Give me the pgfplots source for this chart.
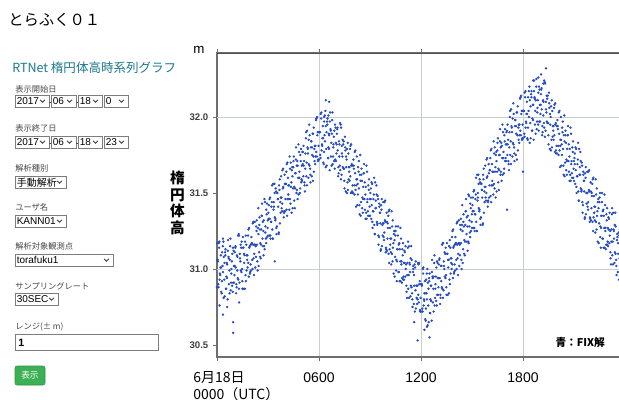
\documentclass[border=0pt]{standalone}
\usepackage{pgfplots}
\pgfplotsset{compat=1.18}
\usepackage{fontspec}
\setmainfont{Liberation Sans}
\newfontfamily\jp{Noto Sans CJK JP}
\definecolor{dotblue}{RGB}{38,76,196}
\definecolor{teal1}{RGB}{28,120,140}
\definecolor{gridc}{RGB}{200,205,212}
\definecolor{axc}{RGB}{110,110,110}
\definecolor{axtop}{RGB}{80,80,80}
\definecolor{btn}{RGB}{60,176,84}
\definecolor{lbl}{RGB}{70,70,70}
\definecolor{bord}{RGB}{125,125,125}
\pgfplotsset{dots/.style={only marks, mark=*, mark size=0.68pt, draw=dotblue, fill=dotblue, mark options={draw=dotblue, fill=dotblue}}}
\newcommand{\selbox}[4]{%
  \draw[bord, line width=0.6pt, fill=white] (#1,#3-6) rectangle (#2,#3+6);
  \node[anchor=west, inner sep=0, font=\fontsize{7.5}{8}\selectfont] at (#1+1.5,#3+0.3) {#4};
  \draw[black!75, line width=0.6pt] (#2-9,#3-1.2) -- (#2-6.5,#3+1.3) -- (#2-4,#3-1.2);
}
\begin{document}
\begin{tikzpicture}[x=0.75pt,y=-0.75pt]
\path[use as bounding box, fill=white] (0,0) rectangle (619,400);
\clip (0,0) rectangle (619,400);
\tikzset{lab/.style={anchor=west, inner sep=0, text=lbl, font=\jp\fontsize{6.2}{7}\selectfont}}
% left panel
\node[anchor=west, inner sep=0, font=\jp\fontsize{11.5}{13}\selectfont] at (8,20) {とらふく０１};
\node[anchor=west, inner sep=0, text=teal1, font=\jp\fontsize{9.4}{11}\selectfont] at (12,68) {RTNet 楕円体高時系列グラフ};
\node[lab] at (15,89) {表示開始日};
\selbox{15}{49}{101}{2017}
\draw[black!70, line width=0.5pt] (49.3,102) -- (51,102);
\selbox{51}{76}{101}{06}
\draw[black!70, line width=0.5pt] (76.3,102) -- (78,102);
\selbox{78}{102}{101}{18}
\selbox{104}{128}{101}{0}
\node[lab] at (15,128) {表示終了日};
\selbox{15}{49}{142}{2017}
\draw[black!70, line width=0.5pt] (49.3,143) -- (51,143);
\selbox{51}{76}{142}{06}
\draw[black!70, line width=0.5pt] (76.3,143) -- (78,143);
\selbox{78}{102}{142}{18}
\selbox{104}{128}{142}{23}
\node[lab] at (15,168) {解析種別};
\selbox{15}{66}{182}{\jp 手動解析}
\node[lab] at (15,207) {ユーザ名};
\selbox{15}{66}{221}{KANN01}
\node[lab] at (15,246) {解析対象観測点};
\selbox{15}{113}{260}{torafuku1}
\node[lab] at (15,286) {サンプリングレート};
\selbox{15}{58}{299}{30SEC}
\node[lab] at (15,327) {レンジ(± m)};
\draw[bord, line width=0.6pt, fill=white] (15,334) rectangle (158,350);
\node[anchor=west, inner sep=0, font=\bfseries\fontsize{8}{9}\selectfont] at (18,342.5) {1};
\draw[fill=btn, draw=btn!85!black, rounded corners=1.5pt] (15,366) rectangle (45,385);
\node[text=white, inner sep=0, font=\jp\fontsize{6.5}{7}\selectfont] at (30,375.5) {表示};
% chart labels
\node[inner sep=0, font=\fontsize{10}{11}\selectfont] at (199,50) {m};
\node[inner sep=0, align=center, font=\jp\bfseries\fontsize{11}{12.6}\selectfont] at (177.5,203) {楕\\円\\体\\高};
\node[anchor=north west, inner sep=0, align=left, font=\jp\fontsize{10.5}{13}\selectfont] at (193,371) {6月18日\\0000（UTC）};
\begin{scope}[x=1pt,y=1pt]
\begin{axis}[
  at={(162.75pt,-267.75pt)}, anchor=south west,
  scale only axis, width=304.5pt, height=228pt,
  xmin=0, xmax=23.88, ymin=30.421, ymax=32.421,
  xtick={0,6,12,18}, xticklabels={,0600,1200,1800},
  ytick={30.5,31,31.5,32},
  extra y ticks={31,32}, extra y tick labels={},
  extra y tick style={grid=major, major tick length=0pt},
  xmajorgrids=true,
  grid style={gridc, line width=0.7pt},
  axis line style={axc, line width=0.9pt},
  tick align=outside, major tick length=3pt,
  tick style={axc, line width=0.6pt},
  yticklabel style={/pgf/number format/fixed, /pgf/number format/fixed zerofill, /pgf/number format/precision=1, font=\bfseries\fontsize{7.2}{8}\selectfont, text=black!75},
  xticklabel style={font=\fontsize{10.5}{12}\selectfont, yshift=-5.5pt},
  /pgf/number format/assume math mode=true,
  clip=true,
]
\addplot[dots] coordinates {
(0.025,31.06)(0.075,30.90)(0.125,31.14)(0.175,30.97)(0.225,31.09)(0.275,30.84)(0.325,31.02)(0.375,31.18)(0.425,30.93)(0.475,31.11)(0.525,30.87)(0.575,31.04)(0.625,30.80)(0.675,31.08)(0.725,30.99)(0.775,31.15)(0.825,30.91)(0.875,31.05)(0.925,30.85)(0.975,31.12)
(1.025,30.96)(1.075,31.14)(1.125,30.84)(1.175,31.09)(1.225,30.94)(1.275,31.23)(1.325,30.91)(1.375,31.05)(1.425,31.14)(1.475,31.00)(1.525,31.21)(1.575,30.87)(1.625,31.09)(1.675,30.96)(1.725,31.16)(1.775,31.06)(1.825,31.22)(1.875,30.95)(1.925,31.15)(1.975,31.03)
(2.025,31.21)(2.075,31.06)(2.125,31.16)(2.175,30.96)(2.225,31.31)(2.275,31.15)(2.325,31.25)(2.375,31.05)(2.425,31.40)(2.475,31.11)(2.525,31.26)(2.575,31.07)(2.625,31.35)(2.675,31.20)(2.725,31.25)(2.775,31.15)(2.825,31.44)(2.875,31.20)(2.925,31.36)(2.975,31.27)
(3.025,31.37)(3.075,31.22)(3.125,31.47)(3.175,31.31)(3.225,31.44)(3.275,31.20)(3.325,31.39)(3.375,31.56)(3.425,31.32)(3.475,31.51)(3.525,31.28)(3.575,31.46)(3.625,31.23)(3.675,31.52)(3.725,31.44)(3.775,31.61)(3.825,31.38)(3.875,31.53)(3.925,31.34)(3.975,31.62)
(4.025,31.46)(4.075,31.64)(4.125,31.35)(4.175,31.60)(4.225,31.46)(4.275,31.74)(4.325,31.43)(4.375,31.57)(4.425,31.67)(4.475,31.53)(4.525,31.74)(4.575,31.40)(4.625,31.63)(4.675,31.50)(4.725,31.71)(4.775,31.60)(4.825,31.77)(4.875,31.50)(4.925,31.71)(4.975,31.59)
(5.025,31.77)(5.075,31.61)(5.125,31.71)(5.175,31.51)(5.225,31.86)(5.275,31.70)(5.325,31.80)(5.375,31.60)(5.425,31.95)(5.475,31.66)(5.525,31.80)(5.575,31.61)(5.625,31.89)(5.675,31.74)(5.725,31.79)(5.775,31.69)(5.825,31.98)(5.875,31.74)(5.925,31.90)(5.975,31.81)
(6.025,31.90)(6.075,31.75)(6.125,31.99)(6.175,31.82)(6.225,31.94)(6.275,31.69)(6.325,31.88)(6.375,32.04)(6.425,31.79)(6.475,31.97)(6.525,31.73)(6.575,31.89)(6.625,31.65)(6.675,31.92)(6.725,31.83)(6.775,31.98)(6.825,31.74)(6.875,31.87)(6.925,31.66)(6.975,31.93)
(7.025,31.76)(7.075,31.92)(7.125,31.61)(7.175,31.84)(7.225,31.68)(7.275,31.95)(7.325,31.62)(7.375,31.74)(7.425,31.82)(7.475,31.66)(7.525,31.87)(7.575,31.51)(7.625,31.72)(7.675,31.57)(7.725,31.76)(7.775,31.64)(7.825,31.79)(7.875,31.50)(7.925,31.69)(7.975,31.55)
(8.025,31.72)(8.075,31.55)(8.125,31.63)(8.175,31.41)(8.225,31.74)(8.275,31.56)(8.325,31.64)(8.375,31.42)(8.425,31.75)(8.475,31.44)(8.525,31.58)(8.575,31.37)(8.625,31.63)(8.675,31.46)(8.725,31.49)(8.775,31.37)(8.825,31.64)(8.875,31.38)(8.925,31.52)(8.975,31.41)
(9.025,31.50)(9.075,31.33)(9.125,31.56)(9.175,31.38)(9.225,31.49)(9.275,31.23)(9.325,31.40)(9.375,31.55)(9.425,31.29)(9.475,31.46)(9.525,31.21)(9.575,31.37)(9.625,31.12)(9.675,31.39)(9.725,31.29)(9.775,31.44)(9.825,31.19)(9.875,31.32)(9.925,31.11)(9.975,31.37)
(10.025,31.20)(10.075,31.35)(10.125,31.04)(10.175,31.27)(10.225,31.11)(10.275,31.38)(10.325,31.05)(10.375,31.17)(10.425,31.25)(10.475,31.08)(10.525,31.28)(10.575,30.92)(10.625,31.13)(10.675,30.98)(10.725,31.17)(10.775,31.05)(10.825,31.20)(10.875,30.91)(10.925,31.09)(10.975,30.95)
(11.025,31.12)(11.075,30.95)(11.125,31.03)(11.175,30.81)(11.225,31.14)(11.275,30.96)(11.325,31.04)(11.375,30.82)(11.425,31.15)(11.475,30.84)(11.525,30.98)(11.575,30.77)(11.625,31.03)(11.675,30.86)(11.725,30.89)(11.775,30.77)(11.825,31.04)(11.875,30.78)(11.925,30.92)(11.975,30.81)
(12.025,30.90)(12.075,30.74)(12.125,30.97)(12.175,30.80)(12.225,30.92)(12.275,30.66)(12.325,30.84)(12.375,31.00)(12.425,30.76)(12.475,30.94)(12.525,30.71)(12.575,30.89)(12.625,30.66)(12.675,30.95)(12.725,30.87)(12.775,31.04)(12.825,30.81)(12.875,30.95)(12.925,30.76)(12.975,31.04)
(13.025,30.88)(13.075,31.06)(13.125,30.77)(13.175,31.02)(13.225,30.88)(13.275,31.17)(13.325,30.86)(13.375,31.00)(13.425,31.10)(13.475,30.96)(13.525,31.17)(13.575,30.83)(13.625,31.06)(13.675,30.93)(13.725,31.14)(13.775,31.04)(13.825,31.21)(13.875,30.94)(13.925,31.15)(13.975,31.03)
(14.025,31.21)(14.075,31.06)(14.125,31.16)(14.175,30.96)(14.225,31.32)(14.275,31.16)(14.325,31.26)(14.375,31.06)(14.425,31.42)(14.475,31.13)(14.525,31.28)(14.575,31.09)(14.625,31.38)(14.675,31.23)(14.725,31.28)(14.775,31.18)(14.825,31.48)(14.875,31.24)(14.925,31.40)(14.975,31.31)
(15.025,31.42)(15.075,31.27)(15.125,31.52)(15.175,31.36)(15.225,31.49)(15.275,31.25)(15.325,31.45)(15.375,31.62)(15.425,31.38)(15.475,31.57)(15.525,31.34)(15.575,31.52)(15.625,31.29)(15.675,31.59)(15.725,31.51)(15.775,31.68)(15.825,31.45)(15.875,31.60)(15.925,31.41)(15.975,31.69)
(16.025,31.55)(16.075,31.73)(16.125,31.44)(16.175,31.69)(16.225,31.55)(16.275,31.84)(16.325,31.53)(16.375,31.67)(16.425,31.77)(16.475,31.64)(16.525,31.86)(16.575,31.52)(16.625,31.75)(16.675,31.62)(16.725,31.83)(16.775,31.73)(16.825,31.90)(16.875,31.63)(16.925,31.84)(16.975,31.73)
(17.025,31.90)(17.075,31.75)(17.125,31.85)(17.175,31.65)(17.225,32.00)(17.275,31.84)(17.325,31.94)(17.375,31.74)(17.425,32.09)(17.475,31.80)(17.525,31.94)(17.575,31.75)(17.625,32.03)(17.675,31.88)(17.725,31.93)(17.775,31.83)(17.825,32.12)(17.875,31.88)(17.925,32.04)(17.975,31.95)
(18.025,32.04)(18.075,31.89)(18.125,32.13)(18.175,31.97)(18.225,32.10)(18.275,31.85)(18.325,32.04)(18.375,32.20)(18.425,31.96)(18.475,32.15)(18.525,31.91)(18.575,32.08)(18.625,31.85)(18.675,32.13)(18.725,32.04)(18.775,32.20)(18.825,31.97)(18.875,32.11)(18.925,31.91)(18.975,32.18)
(19.025,32.02)(19.075,32.18)(19.125,31.88)(19.175,32.11)(19.225,31.96)(19.275,32.23)(19.325,31.91)(19.375,32.03)(19.425,32.12)(19.475,31.96)(19.525,32.16)(19.575,31.79)(19.625,32.00)(19.675,31.85)(19.725,32.04)(19.775,31.91)(19.825,32.06)(19.875,31.77)(19.925,31.96)(19.975,31.81)
(20.025,31.98)(20.075,31.81)(20.125,31.89)(20.175,31.67)(20.225,32.00)(20.275,31.82)(20.325,31.90)(20.375,31.68)(20.425,32.01)(20.475,31.70)(20.525,31.83)(20.575,31.62)(20.625,31.88)(20.675,31.71)(20.725,31.74)(20.775,31.62)(20.825,31.89)(20.875,31.63)(20.925,31.77)(20.975,31.66)
(21.025,31.73)(21.075,31.56)(21.125,31.79)(21.175,31.61)(21.225,31.72)(21.275,31.45)(21.325,31.62)(21.375,31.77)(21.425,31.51)(21.475,31.68)(21.525,31.42)(21.575,31.58)(21.625,31.33)(21.675,31.60)(21.725,31.50)(21.775,31.64)(21.825,31.39)(21.875,31.52)(21.925,31.31)(21.975,31.57)
(22.025,31.40)(22.075,31.56)(22.125,31.25)(22.175,31.48)(22.225,31.32)(22.275,31.59)(22.325,31.26)(22.375,31.38)(22.425,31.46)(22.475,31.30)(22.525,31.50)(22.575,31.14)(22.625,31.35)(22.675,31.20)(22.725,31.39)(22.775,31.27)(22.825,31.42)(22.875,31.13)(22.925,31.32)(22.975,31.18)
(23.025,31.34)(23.075,31.17)(23.125,31.25)(23.175,31.03)(23.225,31.36)(23.275,31.18)(23.325,31.26)(23.375,31.04)(23.425,31.37)(23.475,31.06)(23.525,31.19)(23.575,30.98)(23.625,31.24)(23.675,31.07)(23.725,31.10)(23.775,30.98)(23.825,31.25)(23.875,30.99)
(0.02,31.17)(0.35,31.20)(0.35,30.70)(0.95,30.58)(0.95,30.65)(0.60,30.75)(1.30,30.78)(0.15,30.76)(3.40,31.05)
(6.40,32.11)(6.60,32.10)(6.30,32.00)(6.55,32.01)
(11.80,30.53)(12.50,30.55)(12.20,30.60)(11.60,30.65)(12.35,30.62)
(17.06,31.39)(18.00,31.64)(18.60,32.24)(19.06,32.28)(19.35,32.32)(18.90,32.26)(19.20,32.22)
};
\addplot[dots] coordinates {
(0.00,30.88)(0.05,31.05)(0.10,31.17)(0.15,30.93)(0.20,31.01)(0.25,30.85)(0.30,31.11)(0.35,30.98)(0.40,31.08)(0.45,30.82)(0.50,31.13)(0.55,30.95)(0.60,31.03)(0.65,31.19)(0.70,30.90)(0.75,31.06)(0.80,30.86)(0.85,31.00)(0.90,31.10)(0.95,30.91)
(1.00,30.91)(1.05,31.11)(1.10,31.01)(1.15,30.88)(1.20,31.08)(1.25,30.93)(1.30,31.22)(1.35,31.07)(1.40,30.99)(1.45,31.18)(1.50,30.87)(1.55,31.14)(1.60,31.04)(1.65,31.18)(1.70,30.92)(1.75,31.09)(1.80,31.01)(1.85,31.26)(1.90,31.14)(1.95,30.98)
(2.00,30.99)(2.05,31.17)(2.10,31.30)(2.15,31.07)(2.20,31.16)(2.25,31.01)(2.30,31.28)(2.35,31.16)(2.40,31.27)(2.45,31.02)(2.50,31.34)(2.55,31.17)(2.60,31.26)(2.65,31.43)(2.70,31.15)(2.75,31.32)(2.80,31.13)(2.85,31.28)(2.90,31.39)(2.95,31.21)
(3.00,31.22)(3.05,31.42)(3.10,31.33)(3.15,31.20)(3.20,31.41)(3.25,31.26)(3.30,31.56)(3.35,31.41)(3.40,31.34)(3.45,31.53)(3.50,31.23)(3.55,31.50)(3.60,31.41)(3.65,31.55)(3.70,31.30)(3.75,31.47)(3.80,31.40)(3.85,31.65)(3.90,31.54)(3.95,31.38)
(4.00,31.38)(4.05,31.56)(4.10,31.69)(4.15,31.46)(4.20,31.55)(4.25,31.39)(4.30,31.66)(4.35,31.54)(4.40,31.65)(4.45,31.40)(4.50,31.71)(4.55,31.54)(4.60,31.63)(4.65,31.80)(4.70,31.52)(4.75,31.68)(4.80,31.49)(4.85,31.64)(4.90,31.75)(4.95,31.57)
(5.00,31.58)(5.05,31.77)(5.10,31.68)(5.15,31.55)(5.20,31.76)(5.25,31.61)(5.30,31.91)(5.35,31.76)(5.40,31.69)(5.45,31.88)(5.50,31.57)(5.55,31.84)(5.60,31.75)(5.65,31.89)(5.70,31.64)(5.75,31.81)(5.80,31.74)(5.85,31.99)(5.90,31.88)(5.95,31.72)
(6.00,31.72)(6.05,31.90)(6.10,32.02)(6.15,31.78)(6.20,31.86)(6.25,31.70)(6.30,31.97)(6.35,31.84)(6.40,31.94)(6.45,31.68)(6.50,31.99)(6.55,31.80)(6.60,31.88)(6.65,32.03)(6.70,31.74)(6.75,31.89)(6.80,31.69)(6.85,31.82)(6.90,31.91)(6.95,31.72)
(7.00,31.71)(7.05,31.89)(7.10,31.78)(7.15,31.63)(7.20,31.82)(7.25,31.65)(7.30,31.93)(7.35,31.76)(7.40,31.67)(7.45,31.84)(7.50,31.53)(7.55,31.78)(7.60,31.67)(7.65,31.79)(7.70,31.52)(7.75,31.67)(7.80,31.58)(7.85,31.81)(7.90,31.68)(7.95,31.50)
(8.00,31.50)(8.05,31.66)(8.10,31.77)(8.15,31.52)(8.20,31.59)(8.25,31.42)(8.30,31.67)(8.35,31.53)(8.40,31.62)(8.45,31.35)(8.50,31.66)(8.55,31.47)(8.60,31.54)(8.65,31.69)(8.70,31.39)(8.75,31.54)(8.80,31.33)(8.85,31.46)(8.90,31.55)(8.95,31.35)
(9.00,31.35)(9.05,31.53)(9.10,31.42)(9.15,31.27)(9.20,31.46)(9.25,31.29)(9.30,31.57)(9.35,31.40)(9.40,31.31)(9.45,31.48)(9.50,31.16)(9.55,31.41)(9.60,31.30)(9.65,31.42)(9.70,31.15)(9.75,31.30)(9.80,31.21)(9.85,31.44)(9.90,31.31)(9.95,31.13)
(10.00,31.12)(10.05,31.27)(10.10,31.38)(10.15,31.13)(10.20,31.20)(10.25,31.03)(10.30,31.28)(10.35,31.14)(10.40,31.23)(10.45,30.95)(10.50,31.25)(10.55,31.06)(10.60,31.13)(10.65,31.28)(10.70,30.98)(10.75,31.13)(10.80,30.92)(10.85,31.05)(10.90,31.13)(10.95,30.93)
(11.00,30.93)(11.05,31.11)(11.10,31.00)(11.15,30.85)(11.20,31.04)(11.25,30.87)(11.30,31.15)(11.35,30.98)(11.40,30.89)(11.45,31.06)(11.50,30.75)(11.55,31.00)(11.60,30.89)(11.65,31.01)(11.70,30.74)(11.75,30.89)(11.80,30.80)(11.85,31.03)(11.90,30.90)(11.95,30.72)
(12.00,30.72)(12.05,30.89)(12.10,31.00)(12.15,30.76)(12.20,30.84)(12.25,30.67)(12.30,30.93)(12.35,30.80)(12.40,30.91)(12.45,30.65)(12.50,30.97)(12.55,30.80)(12.60,30.89)(12.65,31.06)(12.70,30.78)(12.75,30.95)(12.80,30.76)(12.85,30.90)(12.90,31.01)(12.95,30.83)
(13.00,30.83)(13.05,31.03)(13.10,30.94)(13.15,30.81)(13.20,31.02)(13.25,30.87)(13.30,31.17)(13.35,31.02)(13.40,30.95)(13.45,31.14)(13.50,30.83)(13.55,31.10)(13.60,31.01)(13.65,31.15)(13.70,30.90)(13.75,31.07)(13.80,31.00)(13.85,31.25)(13.90,31.14)(13.95,30.98)
(14.00,30.99)(14.05,31.17)(14.10,31.30)(14.15,31.07)(14.20,31.17)(14.25,31.02)(14.30,31.29)(14.35,31.17)(14.40,31.29)(14.45,31.04)(14.50,31.36)(14.55,31.19)(14.60,31.29)(14.65,31.46)(14.70,31.18)(14.75,31.35)(14.80,31.17)(14.85,31.32)(14.90,31.43)(14.95,31.25)
(15.00,31.27)(15.05,31.47)(15.10,31.38)(15.15,31.25)(15.20,31.46)(15.25,31.31)(15.30,31.62)(15.35,31.47)(15.40,31.40)(15.45,31.59)(15.50,31.29)(15.55,31.56)(15.60,31.47)(15.65,31.62)(15.70,31.37)(15.75,31.54)(15.80,31.47)(15.85,31.72)(15.90,31.61)(15.95,31.45)
(16.00,31.47)(16.05,31.65)(16.10,31.78)(16.15,31.55)(16.20,31.64)(16.25,31.49)(16.30,31.76)(16.35,31.64)(16.40,31.75)(16.45,31.51)(16.50,31.83)(16.55,31.66)(16.60,31.75)(16.65,31.92)(16.70,31.64)(16.75,31.81)(16.80,31.62)(16.85,31.77)(16.90,31.88)(16.95,31.71)
(17.00,31.71)(17.05,31.91)(17.10,31.82)(17.15,31.69)(17.20,31.90)(17.25,31.75)(17.30,32.05)(17.35,31.90)(17.40,31.83)(17.45,32.02)(17.50,31.71)(17.55,31.98)(17.60,31.89)(17.65,32.03)(17.70,31.78)(17.75,31.95)(17.80,31.88)(17.85,32.13)(17.90,32.02)(17.95,31.86)
(18.00,31.86)(18.05,32.04)(18.10,32.16)(18.15,31.93)(18.20,32.02)(18.25,31.86)(18.30,32.13)(18.35,32.00)(18.40,32.11)(18.45,31.86)(18.50,32.17)(18.55,31.99)(18.60,32.08)(18.65,32.24)(18.70,31.95)(18.75,32.11)(18.80,31.92)(18.85,32.06)(18.90,32.16)(18.95,31.97)
(19.00,31.97)(19.05,32.15)(19.10,32.05)(19.15,31.90)(19.20,32.10)(19.25,31.93)(19.30,32.22)(19.35,32.05)(19.40,31.97)(19.45,32.14)(19.50,31.82)(19.55,32.06)(19.60,31.95)(19.65,32.07)(19.70,31.80)(19.75,31.94)(19.80,31.85)(19.85,32.08)(19.90,31.95)(19.95,31.76)
(20.00,31.76)(20.05,31.92)(20.10,32.03)(20.15,31.78)(20.20,31.85)(20.25,31.68)(20.30,31.93)(20.35,31.79)(20.40,31.88)(20.45,31.61)(20.50,31.91)(20.55,31.72)(20.60,31.79)(20.65,31.94)(20.70,31.64)(20.75,31.79)(20.80,31.58)(20.85,31.71)(20.90,31.80)(20.95,31.60)
(21.00,31.58)(21.05,31.76)(21.10,31.65)(21.15,31.50)(21.20,31.69)(21.25,31.51)(21.30,31.79)(21.35,31.62)(21.40,31.53)(21.45,31.70)(21.50,31.37)(21.55,31.62)(21.60,31.51)(21.65,31.63)(21.70,31.36)(21.75,31.50)(21.80,31.41)(21.85,31.64)(21.90,31.51)(21.95,31.33)
(22.00,31.32)(22.05,31.48)(22.10,31.59)(22.15,31.34)(22.20,31.41)(22.25,31.24)(22.30,31.49)(22.35,31.35)(22.40,31.44)(22.45,31.17)(22.50,31.47)(22.55,31.28)(22.60,31.35)(22.65,31.50)(22.70,31.20)(22.75,31.35)(22.80,31.14)(22.85,31.27)(22.90,31.36)(22.95,31.16)
(23.00,31.15)(23.05,31.33)(23.10,31.22)(23.15,31.07)(23.20,31.26)(23.25,31.09)(23.30,31.37)(23.35,31.20)(23.40,31.11)(23.45,31.28)(23.50,30.96)(23.55,31.21)(23.60,31.10)(23.65,31.22)(23.70,30.95)(23.75,31.10)(23.80,31.01)(23.85,31.24)
};
\addplot[dots] coordinates {
(0.04,31.06)(0.09,30.88)(0.14,31.18)(0.19,30.96)(0.24,31.01)(0.29,30.92)(0.34,31.15)(0.39,30.81)(0.44,31.04)(0.49,31.09)(0.54,30.87)(0.59,30.94)(0.64,31.12)(0.69,31.07)(0.74,30.84)(0.79,31.20)(0.84,30.97)(0.89,30.89)(0.94,31.14)(0.99,31.02)
(1.04,31.02)(1.09,31.15)(1.14,30.90)(1.19,30.99)(1.24,31.22)(1.29,30.87)(1.34,31.10)(1.39,31.16)(1.44,30.98)(1.49,30.92)(1.54,31.14)(1.59,31.10)(1.64,30.87)(1.69,31.22)(1.74,30.99)(1.79,31.09)(1.84,31.04)(1.89,31.27)(1.94,30.97)(1.99,31.16)
(2.04,31.17)(2.09,31.00)(2.14,31.31)(2.19,31.10)(2.24,31.16)(2.29,31.08)(2.34,31.32)(2.39,30.99)(2.44,31.23)(2.49,31.29)(2.54,31.08)(2.59,31.16)(2.64,31.35)(2.69,31.31)(2.74,31.09)(2.79,31.46)(2.84,31.24)(2.89,31.17)(2.94,31.43)(2.99,31.32)
(3.04,31.33)(3.09,31.46)(3.14,31.22)(3.19,31.31)(3.24,31.55)(3.29,31.20)(3.34,31.44)(3.39,31.50)(3.44,31.33)(3.49,31.27)(3.54,31.50)(3.59,31.46)(3.64,31.24)(3.69,31.59)(3.74,31.37)(3.79,31.47)(3.84,31.43)(3.89,31.66)(3.94,31.37)(3.99,31.56)
(4.04,31.56)(4.09,31.39)(4.14,31.70)(4.19,31.49)(4.24,31.55)(4.29,31.46)(4.34,31.70)(4.39,31.37)(4.44,31.61)(4.49,31.67)(4.54,31.45)(4.59,31.53)(4.64,31.72)(4.69,31.68)(4.74,31.46)(4.79,31.82)(4.84,31.60)(4.89,31.53)(4.94,31.79)(4.99,31.68)
(5.04,31.69)(5.09,31.81)(5.14,31.57)(5.19,31.66)(5.24,31.90)(5.29,31.55)(5.34,31.79)(5.39,31.85)(5.44,31.68)(5.49,31.62)(5.54,31.84)(5.59,31.80)(5.64,31.58)(5.69,31.93)(5.74,31.71)(5.79,31.81)(5.84,31.77)(5.89,32.00)(5.94,31.71)(5.99,31.90)
(6.04,31.90)(6.09,31.73)(6.14,32.03)(6.19,31.81)(6.24,31.86)(6.29,31.77)(6.34,32.01)(6.39,31.67)(6.44,31.90)(6.49,31.95)(6.54,31.73)(6.59,31.79)(6.64,31.97)(6.69,31.91)(6.74,31.68)(6.79,32.03)(6.84,31.80)(6.89,31.71)(6.94,31.95)(6.99,31.83)
(7.04,31.82)(7.09,31.93)(7.14,31.67)(7.19,31.74)(7.24,31.96)(7.29,31.59)(7.34,31.81)(7.39,31.85)(7.44,31.66)(7.49,31.58)(7.54,31.80)(7.59,31.74)(7.64,31.50)(7.69,31.83)(7.74,31.59)(7.79,31.67)(7.84,31.61)(7.89,31.82)(7.94,31.51)(7.99,31.68)
(8.04,31.68)(8.09,31.49)(8.14,31.78)(8.19,31.55)(8.24,31.59)(8.29,31.49)(8.34,31.71)(8.39,31.36)(8.44,31.58)(8.49,31.62)(8.54,31.40)(8.59,31.46)(8.64,31.63)(8.69,31.57)(8.74,31.33)(8.79,31.68)(8.84,31.44)(8.89,31.35)(8.94,31.59)(8.99,31.46)
(9.04,31.46)(9.09,31.57)(9.14,31.31)(9.19,31.38)(9.24,31.60)(9.29,31.23)(9.34,31.45)(9.39,31.49)(9.44,31.30)(9.49,31.22)(9.54,31.43)(9.59,31.37)(9.64,31.13)(9.69,31.46)(9.74,31.22)(9.79,31.30)(9.84,31.24)(9.89,31.45)(9.94,31.14)(9.99,31.31)
(10.04,31.30)(10.09,31.10)(10.14,31.39)(10.19,31.16)(10.24,31.20)(10.29,31.10)(10.34,31.32)(10.39,30.97)(10.44,31.19)(10.49,31.22)(10.54,30.99)(10.59,31.05)(10.64,31.22)(10.69,31.16)(10.74,30.92)(10.79,31.27)(10.84,31.03)(10.89,30.94)(10.94,31.17)(10.99,31.04)
(11.04,31.04)(11.09,31.15)(11.14,30.89)(11.19,30.96)(11.24,31.18)(11.29,30.81)(11.34,31.03)(11.39,31.07)(11.44,30.88)(11.49,30.80)(11.54,31.02)(11.59,30.96)(11.64,30.72)(11.69,31.05)(11.74,30.81)(11.79,30.89)(11.84,30.83)(11.89,31.04)(11.94,30.73)(11.99,30.90)
(12.04,30.90)(12.09,30.72)(12.14,31.01)(12.19,30.79)(12.24,30.84)(12.29,30.74)(12.34,30.97)(12.39,30.63)(12.44,30.87)(12.49,30.92)(12.54,30.71)(12.59,30.79)(12.64,30.98)(12.69,30.94)(12.74,30.72)(12.79,31.09)(12.84,30.87)(12.89,30.79)(12.94,31.05)(12.99,30.94)
(13.04,30.94)(13.09,31.07)(13.14,30.83)(13.19,30.92)(13.24,31.16)(13.29,30.81)(13.34,31.05)(13.39,31.11)(13.44,30.94)(13.49,30.88)(13.54,31.10)(13.59,31.06)(13.64,30.84)(13.69,31.19)(13.74,30.97)(13.79,31.07)(13.84,31.03)(13.89,31.26)(13.94,30.97)(13.99,31.16)
(14.04,31.17)(14.09,31.00)(14.14,31.31)(14.19,31.10)(14.24,31.17)(14.29,31.09)(14.34,31.33)(14.39,31.00)(14.44,31.25)(14.49,31.31)(14.54,31.10)(14.59,31.18)(14.64,31.38)(14.69,31.34)(14.74,31.12)(14.79,31.49)(14.84,31.28)(14.89,31.21)(14.94,31.47)(14.99,31.36)
(15.04,31.38)(15.09,31.51)(15.14,31.27)(15.19,31.36)(15.24,31.60)(15.29,31.25)(15.34,31.50)(15.39,31.56)(15.44,31.39)(15.49,31.33)(15.54,31.56)(15.59,31.52)(15.64,31.30)(15.69,31.66)(15.74,31.44)(15.79,31.54)(15.84,31.50)(15.89,31.73)(15.94,31.44)(15.99,31.63)
(16.04,31.65)(16.09,31.48)(16.14,31.79)(16.19,31.58)(16.24,31.64)(16.29,31.56)(16.34,31.80)(16.39,31.47)(16.44,31.71)(16.49,31.78)(16.54,31.57)(16.59,31.65)(16.64,31.84)(16.69,31.80)(16.74,31.58)(16.79,31.95)(16.84,31.73)(16.89,31.66)(16.94,31.92)(16.99,31.82)
(17.04,31.82)(17.09,31.95)(17.14,31.71)(17.19,31.80)(17.24,32.04)(17.29,31.69)(17.34,31.93)(17.39,31.99)(17.44,31.82)(17.49,31.76)(17.54,31.98)(17.59,31.94)(17.64,31.72)(17.69,32.07)(17.74,31.85)(17.79,31.95)(17.84,31.91)(17.89,32.14)(17.94,31.85)(17.99,32.04)
(18.04,32.04)(18.09,31.87)(18.14,32.17)(18.19,31.96)(18.24,32.02)(18.29,31.93)(18.34,32.17)(18.39,31.83)(18.44,32.07)(18.49,32.13)(18.54,31.91)(18.59,31.98)(18.64,32.17)(18.69,32.12)(18.74,31.89)(18.79,32.25)(18.84,32.03)(18.89,31.95)(18.94,32.20)(18.99,32.08)
(19.04,32.08)(19.09,32.19)(19.14,31.94)(19.19,32.01)(19.24,32.24)(19.29,31.87)(19.34,32.10)(19.39,32.14)(19.44,31.96)(19.49,31.88)(19.54,32.09)(19.59,32.02)(19.64,31.78)(19.69,32.11)(19.74,31.87)(19.79,31.94)(19.84,31.88)(19.89,32.09)(19.94,31.78)(19.99,31.94)
(20.04,31.94)(20.09,31.75)(20.14,32.04)(20.19,31.81)(20.24,31.85)(20.29,31.75)(20.34,31.97)(20.39,31.62)(20.44,31.84)(20.49,31.88)(20.54,31.65)(20.59,31.71)(20.64,31.88)(20.69,31.82)(20.74,31.58)(20.79,31.93)(20.84,31.69)(20.89,31.60)(20.94,31.84)(20.99,31.71)
(21.04,31.69)(21.09,31.80)(21.14,31.54)(21.19,31.61)(21.24,31.83)(21.29,31.45)(21.34,31.67)(21.39,31.71)(21.44,31.52)(21.49,31.44)(21.54,31.64)(21.59,31.58)(21.64,31.34)(21.69,31.67)(21.74,31.43)(21.79,31.50)(21.84,31.44)(21.89,31.65)(21.94,31.34)(21.99,31.51)
(22.04,31.50)(22.09,31.31)(22.14,31.60)(22.19,31.37)(22.24,31.41)(22.29,31.31)(22.34,31.53)(22.39,31.18)(22.44,31.40)(22.49,31.44)(22.54,31.21)(22.59,31.27)(22.64,31.44)(22.69,31.38)(22.74,31.14)(22.79,31.49)(22.84,31.25)(22.89,31.16)(22.94,31.40)(22.99,31.27)
(23.04,31.26)(23.09,31.37)(23.14,31.11)(23.19,31.18)(23.24,31.40)(23.29,31.03)(23.34,31.25)(23.39,31.29)(23.44,31.10)(23.49,31.02)(23.54,31.23)(23.59,31.17)(23.64,30.93)(23.69,31.26)(23.74,31.02)(23.79,31.10)(23.84,31.04)(23.89,31.25)
};
\draw[axtop, line width=1.6pt] (rel axis cs:0,1) -- (rel axis cs:1,1);
\node[inner sep=0, font=\jp\bfseries\fontsize{8}{9}\selectfont] at (axis cs:21.36,30.52) {青：FIX解};
\end{axis}
\end{scope}
\end{tikzpicture}
\end{document}
